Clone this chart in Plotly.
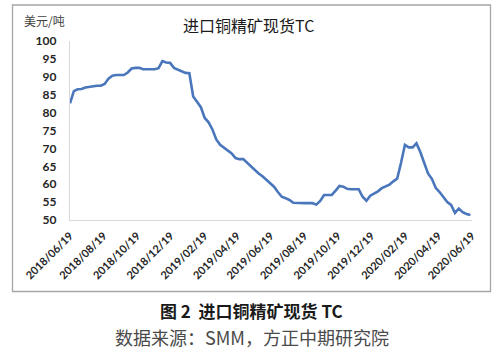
import plotly.graph_objects as go
import pandas as pd

# Weekly SMM spot TC for imported copper concentrate (USD/t)
start_date = "2018-06-19"
tc_values = [
    82.6, 86.0, 86.5, 86.6, 87.0, 87.2, 87.5, 87.5, 87.5, 88.0,
    89.5, 90.3, 90.5, 90.5, 90.5, 91.2, 92.3, 92.5, 92.5, 92.1,
    92.1, 92.1, 92.1, 92.4, 94.4, 94.0, 93.9, 92.5, 92.0, 91.4,
    91.1, 91.0, 84.5, 83.0, 81.5, 78.5, 77.3, 75.3, 72.5, 71.0,
    70.2, 69.6, 68.6, 67.3, 67.0, 67.0, 66.0, 64.8, 64.0, 63.0,
    62.2, 61.2, 60.3, 59.3, 57.8, 56.5, 56.1, 55.6, 54.8, 54.7,
    54.7, 54.7, 54.7, 54.7, 54.3, 55.3, 57.0, 57.0, 57.0, 58.2,
    59.5, 59.3, 58.7, 58.6, 58.6, 58.6, 56.5, 55.4, 56.8, 57.4,
    58.0, 58.9, 59.4, 59.9, 60.8, 61.6, 66.0, 71.0, 70.3, 70.3,
    71.4, 69.0, 66.0, 63.0, 61.5, 59.0, 57.8, 56.5, 55.0, 54.2,
    52.0, 53.2, 52.2, 51.7, 51.4,
]
dates = pd.date_range(start_date, periods=len(tc_values), freq="7D")

y_ticks = [50, 55, 60, 65, 70, 75, 80, 85, 90, 95, 100]
title_text = "进口铜精矿现货TC"
unit_text = "美元/吨"
caption_text = "图 2  进口铜精矿现货 TC"
source_text = "数据来源：SMM，方正中期研究院"

W, H = 500, 353
L, R, T, B = 70, 28, 41, 133
pw, ph = W - L - R, H - T - B


def px(x):
    return (x - L) / pw


def py(y):
    return (H - B - y) / ph


fig = go.Figure()
fig.add_trace(go.Scatter(
    x=dates, y=tc_values, mode="lines",
    line=dict(color="#4A76BC", width=2.6),
    hoverinfo="skip", showlegend=False,
))

fig.update_layout(
    width=W, height=H,
    margin=dict(l=L, r=R, t=T, b=B, pad=0),
    paper_bgcolor="white", plot_bgcolor="white",
    xaxis=dict(
        range=[dates[0], pd.Timestamp("2020-06-19")],
        tickmode="linear", tick0="2018-06-19", dtick="M2",
        tickformat="%Y/%m/%d", tickangle=-45,
        tickfont=dict(family="Lato", size=11, color="#262626", weight="bold"),
        showgrid=False, zeroline=False,
        showline=True, linecolor="#D9D9D9", linewidth=1.3,
        ticks="", ticklabelstandoff=4,
    ),
    yaxis=dict(
        range=[50, 100], tickvals=y_ticks,
        tickfont=dict(family="Lato", size=12, color="#262626", weight="bold"),
        showgrid=False, zeroline=False,
        showline=True, linecolor="#D9D9D9", linewidth=1.3,
        ticks="", ticklabelstandoff=10,
    ),
    shapes=[dict(
        type="rect", xref="paper", yref="paper",
        x0=px(12.5), x1=px(490.5), y0=py(291.5), y1=py(5),
        line=dict(color="#A6A6A6", width=1.3), fillcolor="rgba(0,0,0,0)",
        layer="below",
    )],
    annotations=[
        dict(text=title_text, xref="paper", yref="paper", x=px(248), y=py(25),
             showarrow=False, xanchor="center", yanchor="middle",
             font=dict(family="Noto Sans CJK SC", size=16, color="#1a1a1a")),
        dict(text=unit_text, xref="paper", yref="paper", x=px(22), y=py(21),
             showarrow=False, xanchor="left", yanchor="middle",
             font=dict(family="Noto Sans CJK SC", size=12, color="#404040")),
        dict(text="<b>" + caption_text + "</b>", xref="paper", yref="paper",
             x=px(251), y=py(310), showarrow=False, xanchor="center", yanchor="middle",
             font=dict(family="Noto Sans CJK SC", size=17, color="#1a1a1a")),
        dict(text=source_text, xref="paper", yref="paper",
             x=px(252), y=py(337), showarrow=False, xanchor="center", yanchor="middle",
             font=dict(family="Noto Sans CJK SC", size=18, color="#4a4a4a")),
    ],
)

fig.write_html("out.html")
